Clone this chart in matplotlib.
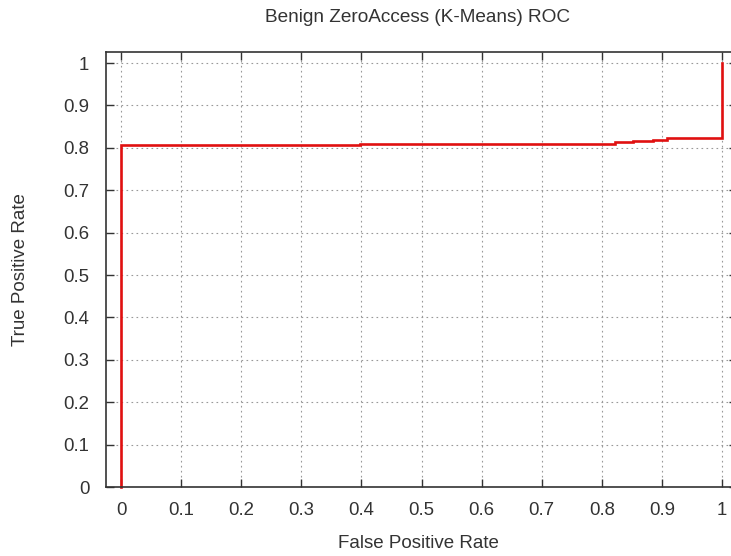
import matplotlib
matplotlib.use("Agg")
import matplotlib.pyplot as plt
from matplotlib.ticker import FuncFormatter

fpr = [0.0, 0.0, 0.398, 0.398, 0.822, 0.822, 0.852, 0.852, 0.885, 0.885, 0.909, 0.909, 1.0, 1.0]
tpr = [0.0, 0.806, 0.806, 0.809, 0.809, 0.813, 0.813, 0.816, 0.816, 0.819, 0.819, 0.822, 0.822, 1.0]
ticks = [0, 0.1, 0.2, 0.3, 0.4, 0.5, 0.6, 0.7, 0.8, 0.9, 1]

W, H = 731, 556
plt.rcParams['font.family'] = ['Liberation Sans', 'DejaVu Sans']
fig = plt.figure(figsize=(W/100, H/100), dpi=100)
ax = fig.add_axes([106/W, 1-487/H, (737-106)/W, (487-52)/H])
ax.plot(fpr, tpr, color='#e01010', lw=1.9, clip_on=False, solid_joinstyle='miter')
ax.set_xlim(-0.025, 1.025)
ax.set_ylim(0, 1.026)
ax.set_xticks(ticks)
ax.set_yticks(ticks)
fmt = FuncFormatter(lambda v, p: '%g' % v)
ax.xaxis.set_major_formatter(fmt)
ax.yaxis.set_major_formatter(fmt)
ax.tick_params(direction='in', length=6, width=1, top=True, right=True, labelsize=13.4, colors='#333333', labelcolor='#333333')
ax.tick_params(axis='x', pad=11)
ax.tick_params(axis='y', pad=12)
ax.grid(True, linestyle=(0, (1.5, 3)), color='#999999', lw=0.8)
for s in ax.spines.values():
    s.set_linewidth(1.2)
    s.set_color('#333333')
fig.text(418/W, 1-18/H, 'Benign ZeroAccess (K-Means) ROC', fontsize=13.7, ha='center', va='center', color='#333333')
fig.text(418/W, 1-543/H, 'False Positive Rate', fontsize=13.5, ha='center', va='center', color='#333333')
fig.text(21/W, 1-270/H, 'True Positive Rate', fontsize=13.5, ha='center', va='center', rotation=90, color='#333333')
fig.savefig('out.png', dpi=100)
